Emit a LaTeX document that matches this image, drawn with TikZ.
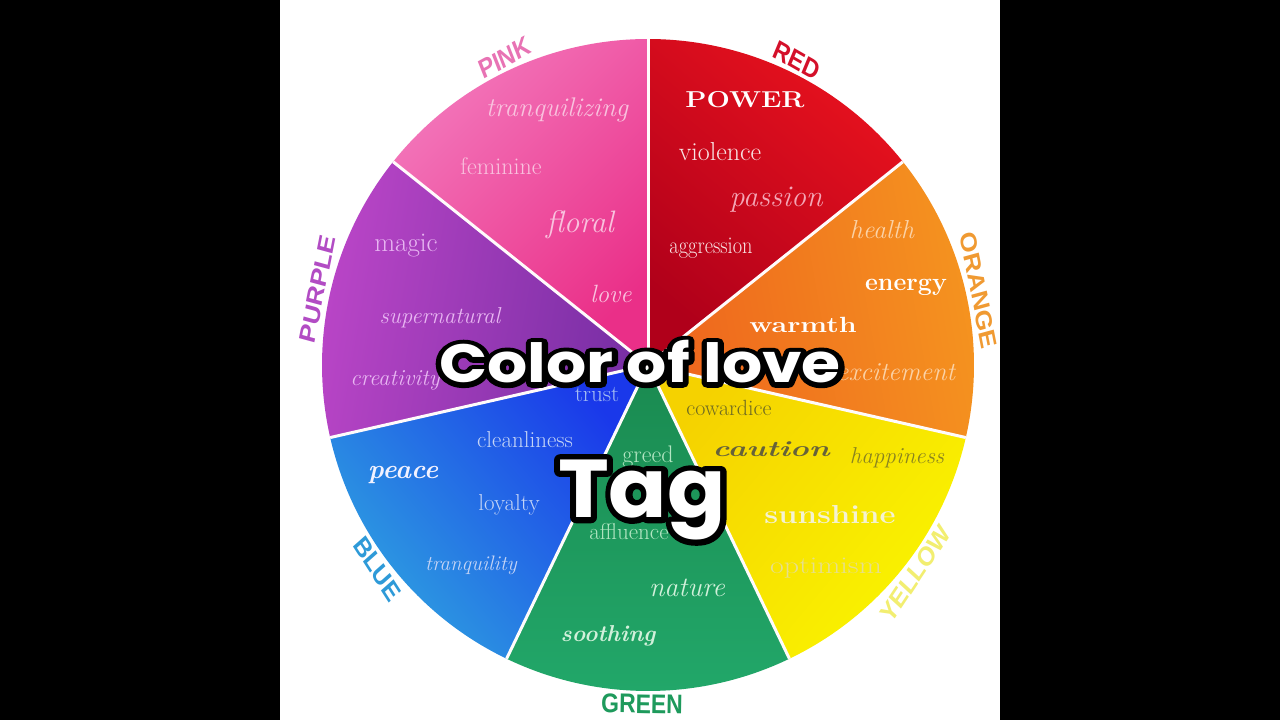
\documentclass[tikz,border=0pt]{standalone}
\usepackage{fontspec}
\newfontfamily\titlefont{Poppins}
\newfontfamily\titleoutA{Poppins}[BoldFeatures={FakeBold=18}]
\newfontfamily\titleoutB{Poppins}[BoldFeatures={FakeBold=14}]
\newfontfamily\labfont{Liberation Sans}
\usetikzlibrary{calc}
\definecolor{pinkA}{HTML}{F377BB}
\definecolor{pinkB}{HTML}{EA2F88}
\definecolor{redA}{HTML}{E8121E}
\definecolor{redB}{HTML}{B0001A}
\definecolor{orA}{HTML}{F5951F}
\definecolor{orB}{HTML}{EE641E}
\definecolor{yeA}{HTML}{FAF500}
\definecolor{yeB}{HTML}{F5D200}
\definecolor{grA}{HTML}{22A86A}
\definecolor{grB}{HTML}{1A8A50}
\definecolor{blA}{HTML}{2EA2E0}
\definecolor{blB}{HTML}{1A38EA}
\definecolor{puA}{HTML}{BC46C8}
\definecolor{puB}{HTML}{772EA4}
\definecolor{pinkW}{HTML}{F9C2DE}
\definecolor{puW}{HTML}{E8B6F2}
\definecolor{redW}{HTML}{F8E4E4}
\definecolor{passW}{HTML}{F4A6B6}
\definecolor{orW}{HTML}{FBD2A6}
\definecolor{yeD}{HTML}{6E6A22}
\definecolor{yeC}{HTML}{66623A}
\definecolor{yeH}{HTML}{8A8420}
\definecolor{yeL}{HTML}{F4F2D2}
\definecolor{yeO}{HTML}{E6DE8C}
\definecolor{grW}{HTML}{B2E6C2}
\definecolor{blT}{HTML}{A4BCF2}
\definecolor{blW}{HTML}{C4D4F6}
\definecolor{lPink}{HTML}{E873B4}
\definecolor{lRed}{HTML}{D4102A}
\definecolor{lOr}{HTML}{F09A32}
\definecolor{lYe}{HTML}{F2EE70}
\definecolor{lGr}{HTML}{1E9A5C}
\definecolor{lBl}{HTML}{2E9AD8}
\definecolor{lPu}{HTML}{B24CC4}
\newcommand\fs[1]{\fontsize{#1}{#1}\selectfont}
\begin{document}
\begin{tikzpicture}[x=1pt,y=1pt,
  divider/.style={draw=white!94!pink,line width=3pt},
  lab/.style={font=\labfont\bfseries\fs{27}, xscale=0.85, inner sep=0pt},
  w/.style={inner sep=0pt}]
\useasboundingbox (0,0) rectangle (1280,-720);
\fill[white] (0,0) rectangle (1280,-720);
\fill[black] (0,0) rectangle (280,-720);
\fill[black] (1000,0) rectangle (1280,-720);
\coordinate (C) at (648,-365);
\def\R{326}
% wedges
\shade[top color=pinkA,bottom color=pinkB,shading angle=45] (C) -- ++(90:\R) arc[start angle=90,end angle=141.43,radius=\R] -- cycle;
\shade[top color=redA,bottom color=redB,shading angle=-40] (C) -- ++(38.57:\R) arc[start angle=38.57,end angle=90,radius=\R] -- cycle;
\shade[top color=orA,bottom color=orB,shading angle=-80] (C) -- ++(-12.86:\R) arc[start angle=-12.86,end angle=38.57,radius=\R] -- cycle;
\shade[top color=yeA,bottom color=yeB,shading angle=-130] (C) -- ++(-64.29:\R) arc[start angle=-64.29,end angle=-12.86,radius=\R] -- cycle;
\shade[top color=grA,bottom color=grB,shading angle=180] (C) -- ++(-115.71:\R) arc[start angle=-115.71,end angle=-64.29,radius=\R] -- cycle;
\shade[top color=blA,bottom color=blB,shading angle=130] (C) -- ++(-167.14:\R) arc[start angle=-167.14,end angle=-115.71,radius=\R] -- cycle;
\shade[top color=puA,bottom color=puB,shading angle=80] (C) -- ++(141.43:\R) arc[start angle=141.43,end angle=192.86,radius=\R] -- cycle;
\foreach \a in {90,38.57,-12.86,-64.29,-115.71,-167.14,141.43}
  \draw[divider] (C) -- ($(C)+(\a:\R)$);
% outer labels
\node[lab,text=lPink,rotate=25] (lpink) at ($(C)+(115:339)$) {PINK};
\node[lab,text=lRed,rotate=-26] (lred) at ($(C)+(64:339)$) {RED};
\node[lab,text=lOr,rotate=-77] (lorange) at ($(C)+(12.7:339)$) {ORANGE};
\node[lab,text=lYe,rotate=52] (lyellow) at ($(C)+(-38:339)$) {YELLOW};
\node[lab,text=lGr,rotate=-1] (lgreen) at ($(C)+(-91:339)$) {GREEN};
\node[lab,text=lBl,rotate=-53] (lblue) at ($(C)+(-143:339)$) {BLUE};
\node[lab,text=lPu,rotate=77] (lpurple) at ($(C)+(167:339)$) {PURPLE};
% pink words
\node[w,text=pinkW,font=\itshape\fs{27}] (tranquilizing) at (557,-110) {tranquilizing};
\node[w,text=pinkW,font=\fs{24}] (feminine) at (501,-166) {feminine};
\node[w,text=pinkW,font=\itshape\fs{31}] (floral) at (580,-225) {floral};
\node[w,text=pinkW,font=\itshape\fs{25}] (love) at (611,-294) {love};
% purple words
\node[w,text=puW,font=\fs{27}] (magic) at (406,-246) {magic};
\node[w,text=puW,font=\itshape\fs{23}] (supernatural) at (440,-318) {supernatural};
\node[w,text=puW,font=\itshape\fs{23}] (creativity) at (395,-380) {creativity};
% red words
\node[w,text=white,font=\bfseries\fs{23},xscale=1.2] (power) at (745,-100) {POWER};
\node[w,text=redW,font=\fs{26}] (violence) at (720,-152) {violence};
\node[w,text=passW,font=\itshape\fs{30}] (passion) at (776,-200) {passion};
\node[w,text=redW,font=\fs{24},xscale=0.85] (aggression) at (711,-248) {aggression};
% orange words
\node[w,text=orW,font=\itshape\fs{26}] (health) at (882,-230) {health};
\node[w,text=white,font=\bfseries\fs{25}] (energy) at (906,-287) {energy};
\node[w,text=white,font=\bfseries\fs{22},xscale=1.3] (warmth) at (803,-325) {warmth};
\node[w,text=orW,font=\itshape\fs{26}] (excitement) at (896,-372) {excitement};
% yellow words
\node[w,text=yeD,font=\fs{22}] (cowardice) at (729,-408) {cowardice};
\node[w,text=yeC,font=\bfseries\itshape\fs{22},xscale=1.45] (caution) at (771,-449) {caution};
\node[w,text=yeH,font=\itshape\fs{23}] (happiness) at (897,-458) {happiness};
\node[w,text=yeL,font=\bfseries\fs{26},xscale=1.2] (sunshine) at (830,-515) {sunshine};
\node[w,text=yeO,font=\fs{24},xscale=1.25] (optimism) at (826,-568) {optimism};
% green words
\node[w,text=grW,font=\fs{24}] (greed) at (648,-457) {greed};
\node[w,text=grW,font=\fs{23}] (affluence) at (629,-532) {affluence};
\node[w,text=grW!60!white,font=\itshape\fs{28}] (nature) at (687,-588) {nature};
\node[w,text=grW!60!white,font=\bfseries\itshape\fs{23}] (soothing) at (608,-636) {soothing};
% blue words
\node[w,text=blT,font=\fs{23}] (trust) at (597,-395) {trust};
\node[w,text=blW,font=\fs{23}] (cleanliness) at (525,-440) {cleanliness};
\node[w,text=white!95!blue,font=\bfseries\itshape\fs{27}] (peace) at (403,-475) {peace};
\node[w,text=blW,font=\fs{23}] (loyalty) at (509,-505) {loyalty};
\node[w,text=blW,font=\itshape\fs{21}] (tranquility) at (471,-565) {tranquility};
% title: black stroked copy under a white copy
\begin{scope}[line join=round]
\node[font=\titleoutA\bfseries\fs{54},text=black,xscale=1.17] (titleout) at (640,-362) {Color of love};
\node[font=\titleoutB\bfseries\fs{82},text=black,xscale=1.05] (tagout) at (642,-500) {Tag};
\end{scope}
\node[font=\titlefont\bfseries\fs{54},text=white,xscale=1.17] (title) at (640,-362) {Color of love};
\node[font=\titlefont\bfseries\fs{82},text=white,xscale=1.05] (tag) at (642,-500) {Tag};
\end{tikzpicture}
\end{document}
